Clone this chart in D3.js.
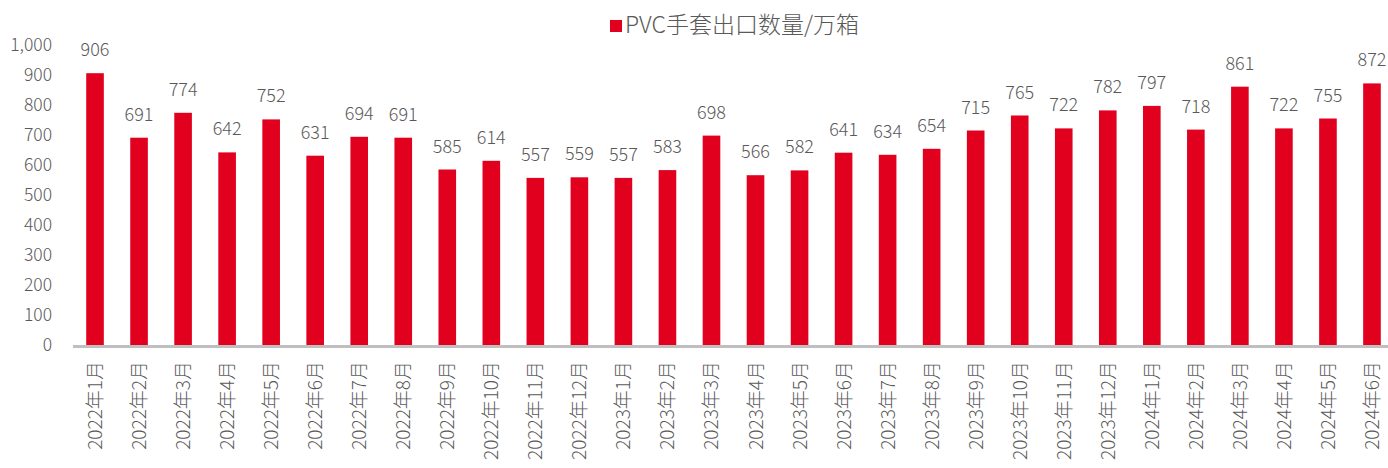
<!DOCTYPE html>
<html>
<head>
<meta charset="utf-8">
<script src="https://cdn.jsdelivr.net/npm/d3@7"></script>
<style>
  body { margin: 0; background: #fff; }
  svg text { font-family: "Noto Sans CJK SC", "Noto Sans", sans-serif; fill: #595959; }
</style>
</head>
<body>
<svg id="chart" width="1388" height="468"></svg>
<script>
const months = [
  "2022年1月", "2022年2月", "2022年3月", "2022年4月", "2022年5月", "2022年6月",
  "2022年7月", "2022年8月", "2022年9月", "2022年10月", "2022年11月", "2022年12月",
  "2023年1月", "2023年2月", "2023年3月", "2023年4月", "2023年5月", "2023年6月",
  "2023年7月", "2023年8月", "2023年9月", "2023年10月", "2023年11月", "2023年12月",
  "2024年1月", "2024年2月", "2024年3月", "2024年4月", "2024年5月", "2024年6月"
];
const exports = [
  906, 691, 774, 642, 752, 631, 694, 691, 585, 614, 557, 559,
  557, 583, 698, 566, 582, 641, 634, 654, 715, 765, 722, 782,
  797, 718, 861, 722, 755, 872
];
const yTicks = [0, 100, 200, 300, 400, 500, 600, 700, 800, 900, 1000];
const seriesName = "PVC手套出口数量/万箱";

const red = "#E1001E";
const svg = d3.select("#chart");

const x = d3.scaleBand()
  .domain(months)
  .range([73, 1394])
  .paddingInner(0.6)
  .paddingOuter(0.3);

const y = d3.scaleLinear()
  .domain([0, 1000])
  .range([345, 45]);

// y axis labels
const yAxis = svg.append("g")
  .attr("transform", "translate(52,0)")
  .call(d3.axisLeft(y).tickValues(yTicks).tickSize(0).tickPadding(0).tickFormat(d3.format(",")));
yAxis.select(".domain").remove();
yAxis.selectAll("text").style("font-size", "17.5px").style("font-weight", 300);

// bars
svg.append("g")
  .selectAll("rect")
  .data(exports)
  .enter()
  .append("rect")
  .attr("x", (d, i) => x(months[i]))
  .attr("y", d => y(d))
  .attr("width", x.bandwidth())
  .attr("height", d => y(0) - y(d))
  .attr("fill", red);

// value labels
svg.append("g")
  .selectAll("text")
  .data(exports)
  .enter()
  .append("text")
  .attr("x", (d, i) => x(months[i]) + x.bandwidth() / 2)
  .attr("y", d => y(d) - 17)
  .attr("text-anchor", "middle")
  .style("font-size", "18px")
  .style("font-weight", 300)
  .text(d => d);

// x axis baseline
svg.append("line")
  .attr("x1", 73).attr("x2", 1388)
  .attr("y1", y(0) + 1.5).attr("y2", y(0) + 1.5)
  .attr("stroke", "#BFBFBF")
  .attr("stroke-width", 3);

// x labels, rotated
svg.append("g")
  .selectAll("text")
  .data(months)
  .enter()
  .append("text")
  .attr("transform", d => "translate(" + (x(d) + x.bandwidth() / 2 + 7) + ",361) rotate(-90)")
  .attr("text-anchor", "end")
  .style("font-size", "19px")
  .style("font-weight", 300)
  .text(d => d);

// legend
const legend = svg.append("g").attr("transform", "translate(610,20)");
legend.append("rect").attr("width", 12).attr("height", 12).attr("fill", red);
legend.append("text")
  .attr("x", 15).attr("y", 13)
  .style("font-size", "23px")
  .style("font-weight", 300)
  .text(seriesName);
</script>
</body>
</html>
